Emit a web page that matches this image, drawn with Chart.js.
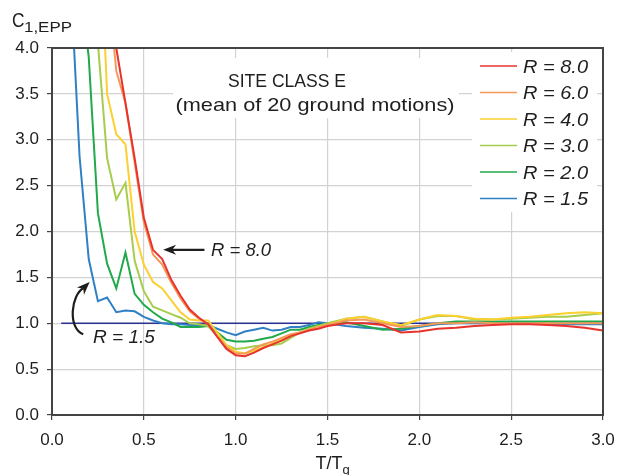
<!DOCTYPE html>
<html>
<head>
<meta charset="utf-8">
<script src="https://cdn.jsdelivr.net/npm/chart.js@4.4.1/dist/chart.umd.min.js"></script>
<style>
  html, body { margin: 0; padding: 0; background: #fff; }
  #wrap { width: 627px; height: 475px; }
</style>
</head>
<body>
<div id="wrap"><canvas id="c" width="627" height="475"></canvas></div>
<script>
// T/Tg sample periods
const periods = [0.1, 0.15, 0.2, 0.25, 0.3, 0.35, 0.4, 0.45, 0.5, 0.55, 0.6, 0.65, 0.7, 0.75,
  0.8, 0.85, 0.9, 0.95, 1.0, 1.05, 1.1, 1.15, 1.2, 1.25, 1.3, 1.35, 1.4, 1.45, 1.5,
  1.6, 1.7, 1.8, 1.9, 2.0, 2.1, 2.2, 2.3, 2.4, 2.5, 2.6, 2.7, 2.8, 2.9, 3.0];

const r80 = [null, null, null, null, 5.0, 4.0, 3.4, 2.8, 2.15, 1.8, 1.7, 1.47, 1.3, 1.15,
  1.06, 0.99, 0.85, 0.72, 0.65, 0.64, 0.68, 0.73, 0.77, 0.81, 0.86, 0.89, 0.92, 0.94, 0.97,
  1.0, 1.0, 0.98, 0.9, 0.91, 0.94, 0.95, 0.97, 0.98, 0.99, 0.99, 0.98, 0.97, 0.95, 0.92];
const r60 = [null, null, null, null, 4.8, 3.75, 3.4, 2.75, 2.1, 1.75, 1.64, 1.44, 1.27, 1.13,
  1.05, 0.99, 0.86, 0.74, 0.67, 0.67, 0.72, 0.77, 0.8, 0.84, 0.88, 0.9, 0.93, 0.96, 0.98,
  1.03, 1.04, 1.0, 0.96, 0.97, 1.0, 1.0, 1.01, 1.0, 1.0, 1.0, 1.0, 1.0, 1.0, 1.0];
const r40 = [null, null, null, 5.8, 3.5, 3.06, 2.95, 2.0, 1.64, 1.45, 1.38, 1.25, 1.12, 1.04,
  1.03, 1.03, 0.9, 0.76, 0.69, 0.67, 0.7, 0.74, 0.78, 0.82, 0.87, 0.9, 0.93, 0.96, 0.98,
  1.05, 1.07, 1.02, 0.98, 1.04, 1.09, 1.08, 1.05, 1.04, 1.06, 1.07, 1.09, 1.11, 1.12, 1.11];
const r30 = [null, null, 5.5, 4.05, 2.8, 2.35, 2.53, 1.68, 1.35, 1.18, 1.14, 1.1, 1.06, 1.0,
  0.99, 0.97, 0.86, 0.76, 0.72, 0.73, 0.75, 0.76, 0.76, 0.78, 0.84, 0.9, 0.94, 0.97, 1.0,
  1.05, 1.07, 1.02, 0.97, 1.04, 1.08, 1.08, 1.04, 1.04, 1.05, 1.06, 1.07, 1.07, 1.09, 1.11];
const r20 = [null, 4.75, 3.9, 2.2, 1.65, 1.38, 1.77, 1.32, 1.2, 1.12, 1.05, 1.01, 0.96, 0.96,
  0.96, 0.97, 0.9, 0.82, 0.8, 0.8, 0.81, 0.83, 0.85, 0.89, 0.93, 0.93, 0.96, 0.98, 0.99,
  1.01, 0.97, 0.93, 0.94, 0.97, 1.0, 1.02, 1.02, 1.02, 1.02, 1.02, 1.02, 1.02, 1.02, 1.02];
const r15 = [4.8, 2.82, 1.7, 1.24, 1.28, 1.12, 1.14, 1.13, 1.07, 1.03, 1.0, 0.99, 0.99, 0.98,
  0.98, 0.98, 0.94, 0.9, 0.87, 0.91, 0.93, 0.95, 0.92, 0.93, 0.96, 0.96, 0.98, 1.01, 1.0,
  0.97, 0.95, 0.94, 0.92, 0.96, 0.99, 1.0, 1.0, 1.0, 1.0, 1.0, 0.99, 0.99, 0.99, 0.99];

const refT = [0.05, 3.0];
const refC = [1.0, 1.0];

const labels = ["R = 8.0", "R = 6.0", "R = 4.0", "R = 3.0", "R = 2.0", "R = 1.5"];
const colors = ["#e8332c", "#f3995a", "#fcd02f", "#a8cc4c", "#22a94b", "#3080c6"];
const series = [r80, r60, r40, r30, r20, r15];

const yTicks = [0, 0.5, 1, 1.5, 2, 2.5, 3, 3.5, 4];

function pts(xs, ys) {
  const out = [];
  xs.forEach((x, i) => { if (ys[i] !== null) out.push({ x: x, y: ys[i] }); });
  return out;
}

const datasets = series.map((s, i) => ({
  label: labels[i],
  data: pts(periods, s),
  borderColor: colors[i],
  borderWidth: 2,
  pointRadius: 0,
  tension: 0,
  fill: false
}));
datasets.push({
  label: "ref",
  data: pts(refT, refC),
  borderColor: "#2b3190",
  borderWidth: 1.3,
  pointRadius: 0,
  fill: false
});

const FONT = '"Liberation Sans", Arial, sans-serif';
const INK = '#1e1e1e';

// draw text squeezed/stretched to a width
function fitText(ctx, text, x, y, w, align) {
  const m = ctx.measureText(text).width;
  const s = w / m;
  ctx.save();
  ctx.textAlign = 'left';
  let x0 = x;
  if (align === 'center') x0 = x - w / 2;
  ctx.translate(x0, y);
  ctx.scale(s, 1);
  ctx.fillText(text, 0, 0);
  ctx.restore();
}

function arrowHead(ctx, x, y, ang, len, wid) {
  ctx.save();
  ctx.translate(x, y);
  ctx.rotate(ang);
  ctx.beginPath();
  ctx.moveTo(0, 0);
  ctx.lineTo(-len, -wid);
  ctx.lineTo(-len * 0.7, 0);
  ctx.lineTo(-len, wid);
  ctx.closePath();
  ctx.fill();
  ctx.restore();
}

const overlay = {
  id: 'overlay',
  beforeDatasetsDraw(chart) {
    const ctx = chart.ctx;
    ctx.save();
    ctx.fillStyle = '#fff';
    ctx.fillRect(173, 58, 286, 60);
    ctx.fillRect(472, 52, 125, 160);
    ctx.restore();
  },
  afterDatasetsDraw(chart) {
    const ctx = chart.ctx;
    const a = chart.chartArea;
    const xs = chart.scales.x, ys = chart.scales.y;
    ctx.save();
    // frame
    ctx.strokeStyle = '#444';
    ctx.lineWidth = 2;
    ctx.strokeRect(a.left, a.top, a.right - a.left, a.bottom - a.top);

    // title
    ctx.fillStyle = INK;
    ctx.textBaseline = 'alphabetic';
    ctx.font = '19px ' + FONT;
    fitText(ctx, 'SITE CLASS E', 287, 87, 118, 'center');
    fitText(ctx, '(mean of 20 ground motions)', 315, 111, 279, 'center');

    // legend
    ctx.font = 'italic 18px ' + FONT;
    chart.data.datasets.slice(0, 6).forEach((d, i) => {
      const y = 66 + i * 26.5;
      ctx.strokeStyle = d.borderColor;
      ctx.lineWidth = 1.5;
      ctx.beginPath();
      ctx.moveTo(480, y);
      ctx.lineTo(517, y);
      ctx.stroke();
      ctx.fillStyle = INK;
      fitText(ctx, d.label, 523, y + 6.5, 65, 'left');
    });

    // annotation R = 8.0
    ctx.strokeStyle = INK;
    ctx.fillStyle = INK;
    ctx.lineWidth = 2.2;
    const hx = xs.getPixelForValue(0.605), hy = ys.getPixelForValue(1.8);
    const tx = xs.getPixelForValue(0.83);
    ctx.beginPath();
    ctx.moveTo(tx, hy);
    ctx.lineTo(hx + 8, hy);
    ctx.stroke();
    arrowHead(ctx, hx, hy, Math.PI, 13, 5);
    ctx.font = 'italic 18px ' + FONT;
    fitText(ctx, 'R = 8.0', xs.getPixelForValue(0.866), hy + 6.5, 60, 'left');

    // annotation R = 1.5 (curved)
    const p0x = xs.getPixelForValue(0.17), p0y = ys.getPixelForValue(0.88);
    const p1x = xs.getPixelForValue(0.205), p1y = ys.getPixelForValue(1.45);
    ctx.beginPath();
    ctx.moveTo(p0x, p0y);
    ctx.bezierCurveTo(p0x - 16, p0y - 6, p0x - 12, p0y - 40, p1x - 6, p1y + 6);
    ctx.stroke();
    arrowHead(ctx, p1x, p1y, -Math.PI / 4, 13, 5);
    fitText(ctx, 'R = 1.5', xs.getPixelForValue(0.223), ys.getPixelForValue(0.86) + 6.5, 62, 'left');

    ctx.restore();
  },
  afterDraw(chart) {
    const ctx = chart.ctx;
    const a = chart.chartArea;
    ctx.save();
    ctx.fillStyle = INK;
    ctx.textBaseline = 'alphabetic';
    // y title C1,EPP
    ctx.font = '20px ' + FONT;
    fitText(ctx, 'C', 12, 27, 12.5, 'left');
    ctx.font = '15px ' + FONT;
    fitText(ctx, '1,EPP', 24, 32, 48, 'left');
    // x title T/Tg
    const cx = (a.left + a.right) / 2;
    ctx.font = '18px ' + FONT;
    fitText(ctx, 'T/T', cx - 12, 469, 27, 'left');
    ctx.font = '13px ' + FONT;
    ctx.fillText('g', cx + 15, 474);
    ctx.restore();
  }
};

new Chart(document.getElementById('c'), {
  type: 'line',
  data: { datasets: datasets },
  options: {
    responsive: false,
    animation: false,
    layout: { padding: { left: 0, top: 48, right: 24, bottom: 0 } },
    plugins: { legend: { display: false }, tooltip: { enabled: false } },
    scales: {
      x: {
        type: 'linear',
        min: 0, max: 3,
        afterFit(s) { s.height = 60; },
        ticks: {
          stepSize: 0.5,
          padding: 10,
          color: INK,
          font: { size: 17, family: FONT },
          callback: v => v.toFixed(1)
        },
        grid: { color: '#d2d2d6', lineWidth: 1.2, tickLength: 5, tickColor: '#444' },
        border: { color: '#444', width: 2 }
      },
      y: {
        min: 0, max: 4,
        afterFit(s) { s.width = 52; },
        afterBuildTicks(s) { s.ticks = yTicks.map(v => ({ value: v })); },
        ticks: {
          padding: 8,
          color: INK,
          font: { size: 17, family: FONT },
          callback: v => v.toFixed(1)
        },
        grid: { color: '#d2d2d6', lineWidth: 1.2, tickLength: 5, tickColor: '#444' },
        border: { color: '#444', width: 2 }
      }
    }
  },
  plugins: [overlay]
});
</script>
</body>
</html>
